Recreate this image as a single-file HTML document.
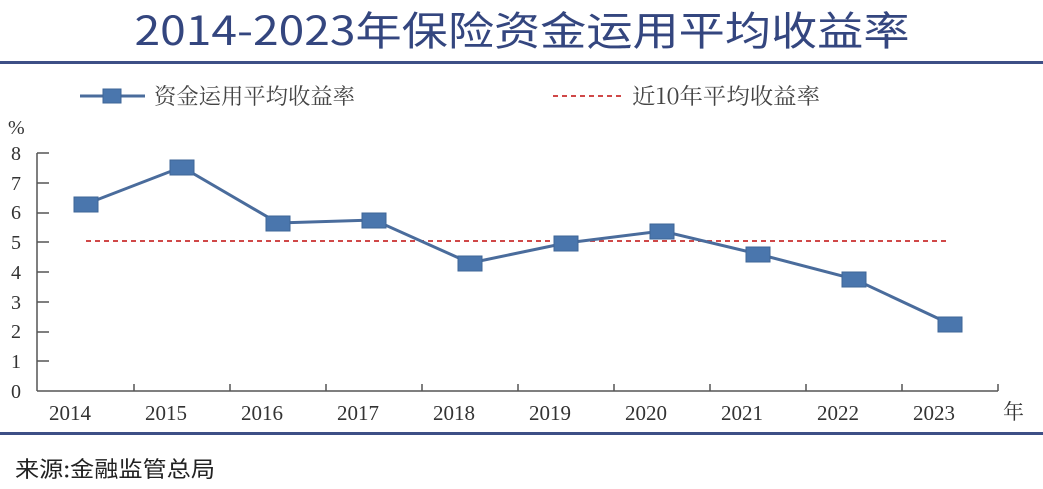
<!DOCTYPE html>
<html><head><meta charset="utf-8"><style>
body{margin:0;background:#fff;}
svg{display:block;}
</style></head><body>
<svg width="1043" height="489" xmlns="http://www.w3.org/2000/svg">
<text x="522" y="45" text-anchor="middle" font-family="'WenQuanYi Zen Hei','Noto Sans CJK SC',sans-serif" font-size="40" fill="#34467f" textLength="775" lengthAdjust="spacingAndGlyphs">2014-2023年保险资金运用平均收益率</text>
<rect x="0" y="61" width="1043" height="3" fill="#3d4f86"/>
<rect x="0" y="432" width="1043" height="3" fill="#3d4f86"/>
<g font-family="'Noto Serif CJK SC',serif" font-size="22" fill="#444">
<line x1="80" y1="96" x2="145" y2="96" stroke="#4a6c9c" stroke-width="3"/>
<rect x="103" y="89" width="18" height="14" fill="#4a76ad" stroke="#3e6597"/>
<text x="154" y="104" textLength="201" lengthAdjust="spacingAndGlyphs">资金运用平均收益率</text>
<line x1="553" y1="96" x2="622" y2="96" stroke="#d04848" stroke-width="2" stroke-dasharray="5,4"/>
<text x="632" y="104" textLength="188" lengthAdjust="spacingAndGlyphs">近10年平均收益率</text>
</g>
<g font-family="'Liberation Serif',serif" font-size="20" fill="#333">
<text x="8" y="134">%</text>
<text x="11" y="160">8</text><text x="11" y="190">7</text><text x="11" y="219">6</text><text x="11" y="249">5</text>
<text x="11" y="279">4</text><text x="11" y="309">3</text><text x="11" y="338">2</text><text x="11" y="368">1</text><text x="11" y="398">0</text>
</g>
<g stroke="#555" stroke-width="1.5" fill="none">
<line x1="37" y1="153" x2="37" y2="391"/>
<line x1="37" y1="391" x2="998" y2="391"/>
<path d="M37 153h12M37 183h12M37 213h12M37 242h12M37 272h12M37 302h12M37 332h12M37 361h12"/>
<path d="M134 391v-7M230 391v-7M326 391v-7M422 391v-7M518 391v-7M614 391v-7M710 391v-7M806 391v-7M902 391v-7M998 391v-7"/>
</g>
<g font-family="'Liberation Serif',serif" font-size="21" fill="#333" text-anchor="middle">
<text x="70" y="420">2014</text><text x="166" y="420">2015</text><text x="262" y="420">2016</text><text x="358" y="420">2017</text><text x="454" y="420">2018</text>
<text x="550" y="420">2019</text><text x="646" y="420">2020</text><text x="742" y="420">2021</text><text x="838" y="420">2022</text><text x="934" y="420">2023</text>
</g>
<text x="1003" y="419" font-family="'Noto Serif CJK SC',serif" font-size="21" fill="#333">年</text>
<line x1="86" y1="241" x2="950" y2="241" stroke="#d04848" stroke-width="2" stroke-dasharray="5,4"/>
<polyline points="86,204 182,167 278,223 374,220 470,263 566,243 662,231 758,254 854,279 950,324" fill="none" stroke="#4a6c9c" stroke-width="3"/>
<g fill="#4a76ad" stroke="#3e6597">
<rect x="74" y="197" width="24" height="15"/><rect x="170" y="160" width="24" height="15"/><rect x="266" y="216" width="24" height="15"/>
<rect x="362" y="213" width="24" height="15"/><rect x="458" y="256" width="24" height="15"/><rect x="554" y="236" width="24" height="15"/>
<rect x="650" y="224" width="24" height="15"/><rect x="746" y="247" width="24" height="15"/><rect x="842" y="272" width="24" height="15"/>
<rect x="938" y="317" width="24" height="15"/>
</g>
<text x="15" y="477" font-family="'WenQuanYi Zen Hei','Noto Sans CJK SC',sans-serif" font-size="22" fill="#222" textLength="200" lengthAdjust="spacingAndGlyphs">来源:金融监管总局</text>
</svg>
</body></html>
